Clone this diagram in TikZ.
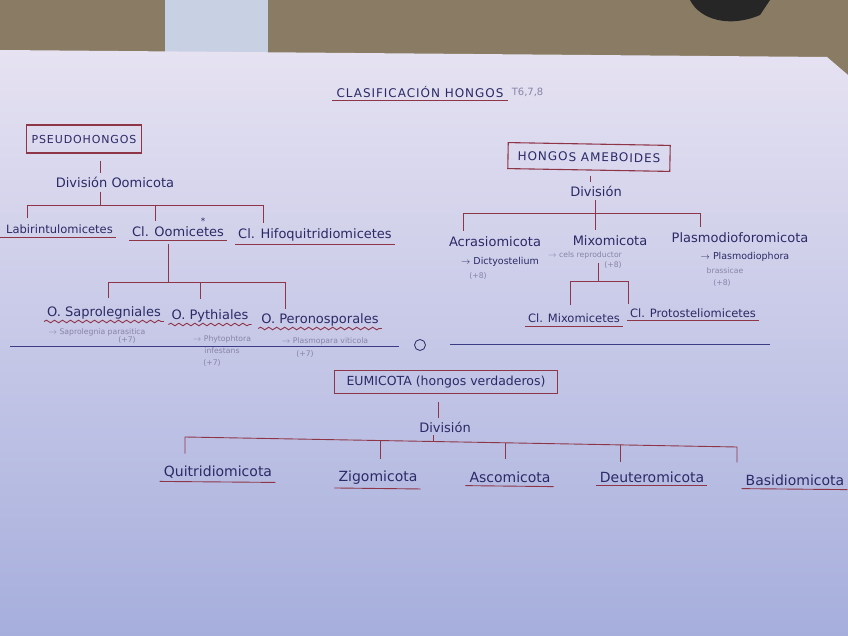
\documentclass[tikz,border=0pt]{standalone}
\usepackage{fontspec}
\newfontfamily\hand{DejaVu Sans}
\newfontfamily\handcaps[LetterSpace=8]{DejaVu Sans}
\usetikzlibrary{decorations.pathmorphing}
\definecolor{ink}{HTML}{2B2A66}
\definecolor{brick}{HTML}{8E3548}
\definecolor{pencil}{HTML}{8884A8}
\definecolor{rulec}{HTML}{3C3C86}
\definecolor{tablec}{HTML}{8A7C64}
\definecolor{papertop}{HTML}{E6E2F2}
\definecolor{paperbot}{HTML}{A6AEDC}
\definecolor{windowc}{HTML}{C8D0E4}
\begin{document}
\begin{tikzpicture}[x=1pt,y=-1pt,
  every node/.style={inner sep=1pt},
  lbl/.style={text=ink,font=\hand\fontsize{13}{15}\selectfont},
  mid/.style={text=ink,font=\hand\fontsize{11.5}{13}\selectfont},
  big/.style={text=ink,font=\hand\fontsize{14}{16}\selectfont},
  note/.style={text=pencil,font=\hand\fontsize{7.7}{9}\selectfont},
  inknote/.style={text=ink,font=\hand\fontsize{9.5}{11}\selectfont},
  capsbox/.style={draw=brick,line width=1.1pt,text=ink,font=\handcaps\fontsize{11}{13}\selectfont,inner xsep=5pt,inner ysep=5pt},
  ln/.style={draw=brick,line width=0.9pt},
  ul/.style={draw=brick,line width=0.9pt},
  wavy/.style={draw=brick,line width=0.9pt,decorate,decoration={snake,amplitude=1.3pt,segment length=8pt}},
  rulel/.style={draw=rulec,line width=1pt},
  tick/.style={ln,shorten >=11pt},
]
\useasboundingbox (0,0) rectangle (848,636);
% background: table and paper
\fill[tablec] (0,0) rectangle (848,80);
\fill[windowc] (165,0) rectangle (268,55);
\fill[black!85] (690,0) .. controls (700,20) and (730,28) .. (760,15) -- (770,0) -- cycle;
\shade[top color=papertop, bottom color=paperbot] (0,50) -- (827,57) -- (848,75) -- (848,636) -- (0,636) -- cycle;

% title
\node[text=ink,font=\handcaps\fontsize{12}{14}\selectfont] (title) at (420,92) {CLASIFICACIÓN HONGOS};
\node[text=pencil,font=\hand\fontsize{10}{12}\selectfont,anchor=west] (tnum) at ([xshift=6pt]title.east) {T6,7,8};
\draw[ul] ([xshift=-3pt,yshift=-2pt]title.south west) -- ([xshift=3pt,yshift=-2pt]title.south east);

% ===== PSEUDOHONGOS =====
\node[capsbox,minimum width=114pt,minimum height=28pt] (pseudo) at (84,139) {PSEUDOHONGOS};
\node[lbl] (divO) at (115,182) {División Oomicota};
\coordinate (oT) at (100,205);
\coordinate (oL) at (27,205);
\coordinate (oM) at (155,205);
\coordinate (oR) at (263,205);
\draw[ln,shorten <=7pt,shorten >=3pt] (pseudo.south -| oT) -- (divO.north -| oT);
\node[mid,anchor=east] (lab) at (114,229) {Cl. Labirintulomicetes};
\node[lbl] (oom) at (178,232) {Cl. Oomicetes};
\node[text=ink,font=\hand\fontsize{9}{10}\selectfont] (ast) at (203,221) {*};
\node[lbl] (hifo) at (315,235) {Cl. Hifoquitridiomicetes};
\draw[ln,shorten <=4pt] (divO.south -| oT) -- (oT);
\draw[ln,shorten <=5pt,shorten >=5pt] (lab.north -| oL) -- (oL) -- (oR) -- (hifo.north -| oR);
\draw[ln,shorten >=5pt] (oM) -- (oom.north -| oM);
\draw[ul] ([xshift=-3pt,yshift=-3pt]lab.south west) -- ([xshift=2pt,yshift=-3pt]lab.south east);
\draw[ul] ([xshift=-2pt,yshift=-2pt]oom.south west) -- ([xshift=2pt,yshift=-2pt]oom.south east);
\draw[ul] ([xshift=-2pt,yshift=-2pt]hifo.south west) -- ([xshift=2pt,yshift=-2pt]hifo.south east);

% orders of Oomicetes
\coordinate (pT) at (168,282);
\coordinate (pL) at (108,282);
\coordinate (pM) at (200,282);
\coordinate (pR) at (285,282);
\node[lbl] (sap) at (104,313) {O. Saprolegniales};
\node[lbl] (pyt) at (210,316) {O. Pythiales};
\node[lbl] (per) at (320,320) {O. Peronosporales};
\draw[ln,shorten <=6pt] (oom.south -| pT) -- (pT);
\draw[ln,shorten <=8pt,shorten >=4pt] (sap.north -| pL) -- (pL) -- (pR) -- (per.north -| pR);
\draw[ln,shorten >=10pt] (pM) -- (pyt.north -| pM);
\draw[wavy] ([xshift=-2pt,yshift=-1pt]sap.south west) -- ([xshift=2pt,yshift=-1pt]sap.south east);
\draw[wavy] ([xshift=-2pt,yshift=-1pt]pyt.south west) -- ([xshift=2pt,yshift=-1pt]pyt.south east);
\draw[wavy] ([xshift=-2pt,yshift=-1pt]per.south west) -- ([xshift=2pt,yshift=-1pt]per.south east);
\node[note] (sapx) at (97,332) {$\rightarrow$ Saprolegnia parasitica};
\node[note] (sapp) at (127,340) {(+7)};
\node[note] (pytx) at (222,339) {$\rightarrow$ Phytophtora};
\node[note] (pyti) at (222,351) {infestans};
\node[note] (pytp) at (212,363) {(+7)};
\node[note] (perx) at (325,341) {$\rightarrow$ Plasmopara viticola};
\node[note] (perp) at (305,354) {(+7)};

% separator
\node[circle,draw=ink,line width=0.8pt,minimum size=11pt,inner sep=0pt] (sep) at (420,345) {};
\coordinate (sepL) at (10,346);
\coordinate (sepR) at (770,344);
\draw[rulel,shorten >=15pt] (sepL) -- (sep.west |- sepL);
\draw[rulel,shorten <=24pt] (sep.east |- sepR) -- (sepR);

% ===== HONGOS AMEBOIDES =====
\node[capsbox,minimum width=162pt,minimum height=26pt,rotate=-1,font=\handcaps\fontsize{12}{14}\selectfont] (ameb) at (589,157) {HONGOS AMEBOIDES};
\node[lbl] (divA) at (596,191) {División};
\coordinate (aT) at (595,213);
\coordinate (aL) at (463,213);
\coordinate (aR) at (700,213);
\coordinate (aS) at (590,0);
\draw[ln,shorten <=5pt,shorten >=3pt] (ameb.south -| aS) -- (divA.north -| aS);
\node[lbl] (acr) at (495,242) {Acrasiomicota};
\node[lbl] (mixo) at (610,241) {Mixomicota};
\node[lbl] (plas) at (740,238) {Plasmodioforomicota};
\draw[ln,shorten <=5pt,shorten >=5pt] (acr.north -| aL) -- (aL) -- (aR) -- (plas.north -| aR);
\draw[ln,shorten <=3pt,shorten >=5pt] (divA.south -| aT) -- (mixo.north -| aT);
\node[inknote] (acrx) at (500,262) {$\rightarrow$ Dictyostelium};
\node[note] (acrp) at (478,276) {(+8)};
\node[note] (mixx) at (585,255) {$\rightarrow$ cels reproductor};
\node[note] (mixp) at (613,265) {(+8)};
\node[inknote] (plax) at (745,257) {$\rightarrow$ Plasmodiophora};
\node[note] (plab) at (725,271) {brassicae};
\node[note] (plap) at (722,283) {(+8)};
% classes of Mixomicota
\coordinate (mT) at (598,281);
\coordinate (mL) at (570,281);
\coordinate (mR) at (628,281);
\node[mid] (mixc) at (574,318) {Cl. Mixomicetes};
\node[mid] (prot) at (693,313) {Cl. Protosteliomicetes};
\draw[ln,shorten <=16pt] (mixo.south -| mT) -- (mT);
\draw[ln,shorten <=7pt,shorten >=3pt] (mixc.north -| mL) -- (mL) -- (mR) -- (prot.north -| mR);
\draw[ul] ([xshift=-2pt,yshift=-3pt]mixc.south west) -- ([xshift=2pt,yshift=-3pt]mixc.south east);
\draw[ul] ([xshift=-2pt,yshift=-2pt]prot.south west) -- ([xshift=2pt,yshift=-2pt]prot.south east);

% ===== EUMICOTA =====
\node[capsbox,minimum width=223pt,minimum height=23pt,inner ysep=3pt,font=\hand\fontsize{12.5}{14}\selectfont] (eumi) at (446,382) {EUMICOTA (hongos verdaderos)};
\node[lbl] (divE) at (445,427) {División};
\coordinate (eT) at (433,441);
\coordinate (eL) at (185,437);
\coordinate (eR) at (737,447);
\coordinate (eZ) at (380,440.5);
\coordinate (eA) at (505,442.8);
\coordinate (eD) at (620,444.9);
\coordinate (eS) at (438,0);
\draw[ln,shorten <=8pt,shorten >=3pt] (eumi.south -| eS) -- (divE.north -| eS);
\node[big] (qui) at (218,472) {Quitridiomicota};
\node[big] (zig) at (378,478) {Zigomicota};
\node[big] (asc) at (510,477) {Ascomicota};
\node[big] (deu) at (652,477) {Deuteromicota};
\node[big] (bas) at (795,480) {Basidiomicota};
\draw[ln,shorten <=2pt] (divE.south -| eT) -- (eT);
\draw[ln,shorten <=11pt,shorten >=11pt] (qui.north -| eL) -- (eL) -- (eR) -- (bas.north -| eR);
\draw[tick] (eZ) -- (zig.north -| eZ);
\draw[tick] (eA) -- (asc.north -| eA);
\draw[ln,shorten >=8pt] (eD) -- (deu.north -| eD);
\draw[ul] ([xshift=-3pt,yshift=-2pt]qui.south west) -- ([xshift=2pt,yshift=-3pt]qui.south east);
\draw[ul] ([xshift=-3pt,yshift=-2pt]zig.south west) -- ([xshift=2pt,yshift=-3pt]zig.south east);
\draw[ul] ([xshift=-3pt,yshift=-2pt]asc.south west) -- ([xshift=2pt,yshift=-3pt]asc.south east);
\draw[ul] ([xshift=-3pt,yshift=-2pt]deu.south west) -- ([xshift=2pt,yshift=-2pt]deu.south east);
\draw[ul] ([xshift=-3pt,yshift=-2pt]bas.south west) -- ([xshift=2pt,yshift=-3pt]bas.south east);
\end{tikzpicture}
\end{document}
